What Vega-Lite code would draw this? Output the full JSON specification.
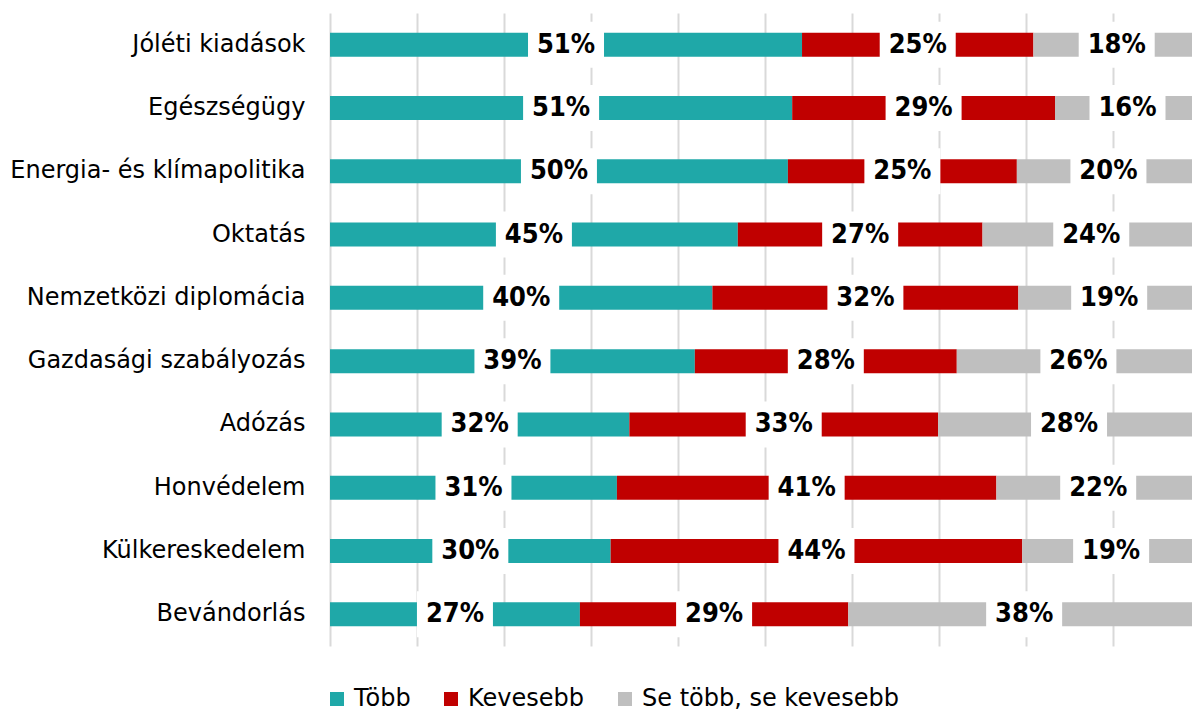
{
  "$schema": "https://vega.github.io/schema/vega-lite/v6.json",
  "autosize": {"type": "none"},
  "padding": {"left": 330, "top": 13, "right": 0, "bottom": 66},
  "width": 862,
  "height": 633,
  "background": "white",
  "config": {"view": {"stroke": null}, "font": "DejaVu Sans"},
  "data": {
    "values": [
      {"cat": "Jóléti kiadások\u2002", "series": "Több", "ord": 1, "value": 51},
      {"cat": "Jóléti kiadások\u2002", "series": "Kevesebb", "ord": 2, "value": 25},
      {"cat": "Jóléti kiadások\u2002", "series": "Se több, se kevesebb", "ord": 3, "value": 18},
      {"cat": "Egészségügy", "series": "Több", "ord": 1, "value": 51},
      {"cat": "Egészségügy", "series": "Kevesebb", "ord": 2, "value": 29},
      {"cat": "Egészségügy", "series": "Se több, se kevesebb", "ord": 3, "value": 16},
      {"cat": "Energia- és klímapolitika", "series": "Több", "ord": 1, "value": 50},
      {"cat": "Energia- és klímapolitika", "series": "Kevesebb", "ord": 2, "value": 25},
      {"cat": "Energia- és klímapolitika", "series": "Se több, se kevesebb", "ord": 3, "value": 20},
      {"cat": "Oktatás", "series": "Több", "ord": 1, "value": 45},
      {"cat": "Oktatás", "series": "Kevesebb", "ord": 2, "value": 27},
      {"cat": "Oktatás", "series": "Se több, se kevesebb", "ord": 3, "value": 24},
      {"cat": "Nemzetközi diplomácia", "series": "Több", "ord": 1, "value": 40},
      {"cat": "Nemzetközi diplomácia", "series": "Kevesebb", "ord": 2, "value": 32},
      {"cat": "Nemzetközi diplomácia", "series": "Se több, se kevesebb", "ord": 3, "value": 19},
      {"cat": "Gazdasági szabályozás", "series": "Több", "ord": 1, "value": 39},
      {"cat": "Gazdasági szabályozás", "series": "Kevesebb", "ord": 2, "value": 28},
      {"cat": "Gazdasági szabályozás", "series": "Se több, se kevesebb", "ord": 3, "value": 26},
      {"cat": "Adózás", "series": "Több", "ord": 1, "value": 32},
      {"cat": "Adózás", "series": "Kevesebb", "ord": 2, "value": 33},
      {"cat": "Adózás", "series": "Se több, se kevesebb", "ord": 3, "value": 28},
      {"cat": "Honvédelem", "series": "Több", "ord": 1, "value": 31},
      {"cat": "Honvédelem", "series": "Kevesebb", "ord": 2, "value": 41},
      {"cat": "Honvédelem", "series": "Se több, se kevesebb", "ord": 3, "value": 22},
      {"cat": "Külkereskedelem", "series": "Több", "ord": 1, "value": 30},
      {"cat": "Külkereskedelem", "series": "Kevesebb", "ord": 2, "value": 44},
      {"cat": "Külkereskedelem", "series": "Se több, se kevesebb", "ord": 3, "value": 19},
      {"cat": "Bevándorlás", "series": "Több", "ord": 1, "value": 27},
      {"cat": "Bevándorlás", "series": "Kevesebb", "ord": 2, "value": 29},
      {"cat": "Bevándorlás", "series": "Se több, se kevesebb", "ord": 3, "value": 38}
    ]
  },
  "encoding": {
    "y": {
      "field": "cat",
      "type": "nominal",
      "sort": ["Jóléti kiadások\u2002", "Egészségügy", "Energia- és klímapolitika", "Oktatás", "Nemzetközi diplomácia", "Gazdasági szabályozás", "Adózás", "Honvédelem", "Külkereskedelem", "Bevándorlás"],
      "axis": {
        "title": null,
        "domain": false,
        "ticks": false,
        "labelPadding": 25,
        "labelFontSize": 24,
        "labelFont": "DejaVu Sans",
        "labelColor": "#000000",
        "labelLimit": 400
      }
    },
    "x": {
      "field": "value",
      "type": "quantitative",
      "stack": "normalize",
      "scale": {"domain": [0, 0.9908], "nice": false, "zero": false},
      "axis": {
        "values": [0, 0.1, 0.2, 0.3, 0.4, 0.5, 0.6, 0.7, 0.8, 0.9],
        "labels": false,
        "ticks": false,
        "domain": false,
        "title": null,
        "grid": true,
        "gridColor": "#d9d9d9",
        "gridWidth": 2
      }
    },
    "order": {"field": "ord", "type": "quantitative"}
  },
  "layer": [
    {
      "mark": {"type": "bar", "size": 24, "clip": true},
      "encoding": {
        "color": {
          "field": "series",
          "type": "nominal",
          "scale": {
            "domain": ["Több", "Kevesebb", "Se több, se kevesebb"],
            "range": ["#1fa8a8", "#c00000", "#bfbfbf"]
          },
          "legend": {
            "orient": "none",
            "legendX": -5,
            "legendY": 674,
            "direction": "horizontal",
            "title": null,
            "symbolType": "square",
            "symbolSize": 196,
            "symbolStrokeWidth": 0,
            "labelFontSize": 24,
            "labelFont": "DejaVu Sans",
            "labelColor": "#000000",
            "columnPadding": 28,
            "labelOffset": 5,
            "padding": 0,
            "labelLimit": 400
          }
        }
      }
    },
    {
      "mark": {
        "type": "point",
        "shape": "M-1,-0.605H1V0.605H-1Z",
        "size": 5776,
        "filled": true,
        "color": "white",
        "opacity": 1,
        "strokeWidth": 0
      },
      "encoding": {
        "x": {"field": "value", "type": "quantitative", "stack": "normalize", "bandPosition": 0.5}
      }
    },
    {
      "mark": {
        "type": "text",
        "fontWeight": "bold",
        "fontSize": 27,
        "font": "DejaVu Sans Condensed",
        "color": "#000000",
        "baseline": "middle",
        "align": "center",
        "text": {"expr": "datum.value + '%'"}
      },
      "encoding": {
        "x": {"field": "value", "type": "quantitative", "stack": "normalize", "bandPosition": 0.5}
      }
    }
  ]
}
